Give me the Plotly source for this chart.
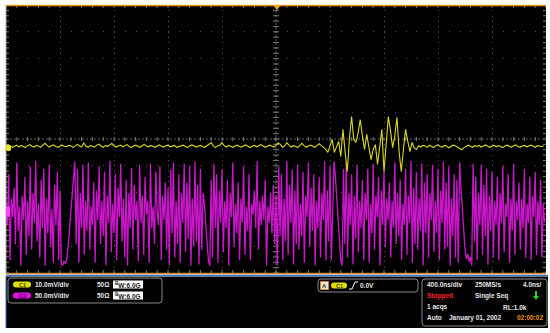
import numpy as np
import plotly.graph_objects as go

W, H = 550, 333

# ---------------- data ----------------
TIME_PER_DIV_NS = 400
C1_DT_NS = 16          # yellow trace sample spacing used for transcription
C3_DT_NS = 10          # magenta trace sample spacing used for transcription
C1_SCALE_MV = 10.0     # mV/div
C3_SCALE_MV = 50.0     # mV/div
C1_OFFSET_DIV = -0.28
C3_OFFSET_DIV = -2.72

c1_mv = [
    0.3, 0.6, 0.2, -0.3, 0.1, 0.5, -0.2, 0.4, 0.0, -0.4, 0.3, 0.7, 0.1, -0.2, 0.4, 0.2, -0.3, 0.5, 1.2, 0.4,
    -0.2, 0.3, 0.6, 0.0, -0.3, 0.2, 0.5, 0.1, -0.1, 0.4, 0.3, -0.4, 0.2, 0.8, 0.3, -0.2, 1.3, 0.2, -0.3, 0.4,
    0.1, -0.2, 0.5, 0.9, 0.2, -0.3, 0.4, 0.0, 0.6, 1.1, 0.3, -0.2, 0.2, 0.5, -0.1, 0.3, 0.7, 0.0, -0.4, 0.2,
    0.5, 0.1, -0.3, 0.3, 0.8, 0.2, -0.1, 0.4, 0.0, -0.3, 0.2, 0.6, 0.1, -0.2, 0.3, 0.5, -0.1, 0.2, 0.4, -0.3,
    0.0, 0.3, 0.5, 0.1, -0.4, 0.2, 0.6, 0.3, -0.2, 0.1, 0.4, 0.0, -0.3, 0.3, 1.0, 1.4, 0.2, -0.4, 0.3, 0.5,
    1.5, 0.3, -0.2, 0.4, 0.1, -0.3, 0.2, 0.5, 0.0, -0.2, 0.3, 0.6, 0.1, -0.4, 0.2, 0.4, -0.1, 0.3, 0.7, 0.2,
    -0.3, 0.1, 0.5, 0.2, -0.2, 0.4, 1.3, 0.8, -0.3, 0.2, 1.4, 0.5, -0.2, 0.3, 0.1, -0.4, 0.6, 1.2, 0.3, -0.3,
    0.2, 0.5, 0.1, -0.3, 0.4, 1.0, 0.3, -0.2,
    -1.0, -2.2, 0.5, 2.6, -2.2, 0.0, 1.9, -3.7, 6.4, -2.0, -9.4, 3.0, 11.2, 2.6, 1.5, 5.0, 10.0, 4.0, -1.1, 4.5,
    0.0, -4.9, -1.0, 0.7, -6.7, 0.0, 6.4, -9.4, 2.0, 11.2, 6.0, -0.4, 4.0, 10.9, -2.0, -9.4, -1.0, 6.4, 2.0, -1.9,
    1.5, -0.5, -1.1, 0.3, -0.2, 0.4,
    0.2, -0.3, 0.5, 0.1, -0.4, 0.3, 0.6, 0.0, -0.2, 0.4, 0.2, -0.5, 0.1, 0.5, 0.3, -0.1, -0.6, -1.2, -0.4, 0.2,
    0.5, 0.1, -0.3, 0.3, 0.0, 0.4, -0.2, 0.2, 0.6, 0.1, -0.3, 0.2, 0.4, -0.1, 0.3, 0.0, -0.4, 0.2, 0.5, 0.1,
    -0.2, 0.3, 0.6, 0.0, -0.3, 0.2, 0.4, -0.1, 0.1, 0.5, 0.2, -0.3, 0.3, 0.1, 0.0, 0.2,
]

c3_mv = [
    15, -25, 70, -90, 25, -10, 45, -60, 92, -35, 10, -100, 30, -15, 65, -80, 20, -45, 85, -70,
    35, -20, 95, -55, 15, -85, 60, -30, 80, -100, 25, -40, 88, -65, 5, -95, 50, -25, 75, -90,
    40, -98, -100, -92, -97, -88, -65, -35, -5, 30, 62, 94, -60, 80, -95, 35, -30, 88, -80, 20,
    -35, 92, -70, 10, -25, 55, -95, 40, -15, 85, -60, 20, -45, 75, -100, 30, -20, 95, -75, 15,
    -40, 70, -90, 45, -10, 90, -55, 25, -85, 60, -100, 35, -30, 82, -70, 50, -15, 20, -92, 88,
    -20, 30, -80, 65, -5, 20, -95, 90, -30, 10, -60, 75, 0, -25, 85, -90, 30, -15, 55, -70,
    45, -100, 78, -40, 92, -85, 20, -60, 70, -95, 35, -20, 90, -75, 55, -50, 85, -100, 25, -65,
    94, -55, 50, -98, 80, -70, 35, 15, -25, -65, -92, -100, 60, -85, 90, -30, 70, -95, 40, -20,
    80, -75, 20, -30, 60, -100, 35, -10, 92, -65, 15, -40, 55, -90, 25, -20, 85, -80, 10, -35,
    70, -90, 15, -5, 40, -30, 95, -70, 20, -25, 30, -15, 60, -100, 10, -20, 35, -40, 50, -60,
    30, -100, 85, -45, 70, -90, 25, -55, 95, -80, 50, -20, 78, -98, 40, -60, 88, -70, 15, -45,
    75, -95, 30, -10, 92, -65, 45, -35, 70, -100, 20, -30, 65, -85, 35, -15, 95, -90, 40, -55,
    85, -90, 25, 94, 65, 25, -15, -55, -92, -100, 80, -60, 92, -85, 35, -25, 70, -98, 30, -50,
    88, -75, 20, -30, 60, -90, 35, -15, 80, -95, 15, -40, 90, -70, 30, -10, 65, -100, 40, -25,
    75, -65, 25, -15, 55, -85, 20, -30, 92, -60, 35, -45, 60, -90, 15, -25, 80, -80, 30, -20,
    95, -95, 45, -60, 75, -70, 25, -35, 90, -100, 55, -40, 70, -85, 35, -15, 88, -75, 20, -40,
    80, -90, 40, -20, 94, -70, 55, -65, 85, -100, 25, -45, 70, -85, 60, -95, 92, 45, 5, -35,
    -70, -88, -78, -93, -84, -100, 90, -55, 65, -90, 35, -25, 88, -80, 50, -45, 80, -98, 30, -35,
    75, -85, 20, -25, 65, -90, 35, -20, 85, -75, 15, -10, 70, -95, 25, -35, 90, -80, 20, -15,
    55, -70, 25, -30, 80, -85, 15, -20, 65, -90, 30, -10, 75, -80, 20, -25, 60, -85, 15, -20,
]

ch_labels = ["C1", "C3"]
ch_scales = ["10.0mV/div", "50.0mV/div"]
ch_imped = ["50\u03a9", "50\u03a9"]
ch_bw = ["6.0G", "6.0G"]
trig_level = "0.0V"
timebase = ["400.0ns/div", "250MS/s", "4.0ns/"]
status = ["Stopped", "Single Seq"]
acq = ["1 acqs", "RL:1.0k"]
footer = ["Auto", "January 01, 2002", "02:00:02"]

# ---------------- helpers ----------------
def X(px):
    return px / W

def Y(py):
    return 1 - py / H

def rrect(x0, y0, x1, y1, r):
    return (f"M {X(x0+r)},{Y(y0)} L {X(x1-r)},{Y(y0)} Q {X(x1)},{Y(y0)} {X(x1)},{Y(y0+r)} "
            f"L {X(x1)},{Y(y1-r)} Q {X(x1)},{Y(y1)} {X(x1-r)},{Y(y1)} "
            f"L {X(x0+r)},{Y(y1)} Q {X(x0)},{Y(y1)} {X(x0)},{Y(y1-r)} "
            f"L {X(x0)},{Y(y0+r)} Q {X(x0)},{Y(y0)} {X(x0+r)},{Y(y0)} Z")

SX0, SX1, SY0, SY1 = 6, 546, 5, 273
T_RANGE = TIME_PER_DIV_NS * 10

t1 = np.arange(len(c1_mv)) * C1_DT_NS
t3 = np.arange(len(c3_mv)) * C3_DT_NS
y1 = np.array(c1_mv) / C1_SCALE_MV + C1_OFFSET_DIV
y3 = np.array(c3_mv) / C3_SCALE_MV + C3_OFFSET_DIV

fig = go.Figure()

# graticule tick marks
pxx = T_RANGE / (SX1 - SX0)
pxy = 10 / (SY1 - SY0)
tx, ty = [], []
for k in range(51):
    t = k * TIME_PER_DIV_NS / 5
    for yb, d in ((-5, 3), (5, -3)):
        tx += [t, t, None]; ty += [yb, yb + d * pxy, None]
    tx += [t, t, None]; ty += [-2 * pxy, 2 * pxy, None]
for k in range(51):
    v = -5 + k * 0.2
    for xb, d in ((0, 3), (T_RANGE, -3)):
        tx += [xb, xb + d * pxx, None]; ty += [v, v, None]
    tx += [T_RANGE / 2 - 3 * pxx, T_RANGE / 2 + 3 * pxx, None]; ty += [v, v, None]
fig.add_trace(go.Scatter(x=tx, y=ty, mode="lines", line=dict(color="#7a7a70", width=1),
                         hoverinfo="skip", showlegend=False))

fig.add_trace(go.Scatter(x=t3, y=y3, mode="lines", line=dict(color="#cc16cc", width=1.3),
                         hoverinfo="skip", showlegend=False))
fig.add_trace(go.Scatter(x=t1, y=y1, mode="lines", line=dict(color="#d8d820", width=1.1),
                         hoverinfo="skip", showlegend=False))

shapes = []
# center crosshair
shapes.append(dict(type="line", xref="x", yref="y", x0=T_RANGE / 2, x1=T_RANGE / 2, y0=-5, y1=5,
                   line=dict(color="#606060", width=1, dash="2px,2px"), layer="below"))
shapes.append(dict(type="line", xref="x", yref="y", x0=0, x1=T_RANGE, y0=0, y1=0,
                   line=dict(color="#606060", width=1, dash="2px,2px"), layer="below"))
# orange top / bottom screen borders, blue separator
shapes.append(dict(type="line", xref="paper", yref="paper", x0=X(SX0), x1=X(SX1), y0=Y(5.5), y1=Y(5.5),
                   line=dict(color="#e8921c", width=1.5)))
shapes.append(dict(type="line", xref="paper", yref="paper", x0=X(SX0), x1=X(SX1), y0=Y(273.5), y1=Y(273.5),
                   line=dict(color="#d0882a", width=1.5)))
shapes.append(dict(type="line", xref="paper", yref="paper", x0=X(SX0), x1=X(548), y0=Y(275.5), y1=Y(275.5),
                   line=dict(color="#3c6fc4", width=1.5)))
# left screen edge
shapes.append(dict(type="line", xref="paper", yref="paper", x0=X(6), x1=X(6), y0=Y(5), y1=Y(274),
                   line=dict(color="#b8b0a0", width=1)))
# trigger position marker
shapes.append(dict(type="path", xref="paper", yref="paper",
                   path=f"M {X(273)},{Y(5)} L {X(281)},{Y(5)} L {X(277)},{Y(10)} Z",
                   fillcolor="#f0a020", line=dict(width=0)))
# channel ground markers
shapes.append(dict(type="path", xref="paper", yref="paper", path=rrect(6, 145, 11, 151, 2),
                   fillcolor="#e8e820", line=dict(width=0)))
shapes.append(dict(type="path", xref="paper", yref="paper", path=rrect(6, 206, 10, 217, 2),
                   fillcolor="#ff40ff", line=dict(width=0)))
# bottom panel
shapes.append(dict(type="rect", xref="paper", yref="paper", x0=X(6), x1=X(548), y0=Y(328), y1=Y(276.5),
                   fillcolor="#000000", line=dict(width=0), layer="below"))
shapes.append(dict(type="line", xref="paper", yref="paper", x0=X(6), x1=X(6), y0=Y(328), y1=Y(276),
                   line=dict(color="#3c6fc4", width=1)))
for (a, b, c, d) in ((8, 278, 162, 303), (318, 279, 418, 292), (422, 279, 547, 326)):
    shapes.append(dict(type="path", xref="paper", yref="paper", path=rrect(a, b, c, d, 3),
                       fillcolor="rgba(0,0,0,0)", line=dict(color="#8a8a8a", width=1)))
# channel pills
pill_cols = ["#e0e000", "#e010e0"]
for i, yc in enumerate((284.5, 295.5)):
    shapes.append(dict(type="path", xref="paper", yref="paper", path=rrect(13, yc - 3, 31, yc + 3, 3),
                       fillcolor=pill_cols[i], line=dict(width=0)))
    shapes.append(dict(type="rect", xref="paper", yref="paper", x0=X(113), x1=X(143), y0=Y(yc + 4), y1=Y(yc - 4),
                       fillcolor="#ffffff", line=dict(width=0)))
shapes.append(dict(type="path", xref="paper", yref="paper", path=rrect(331, 282.5, 347, 288.5, 3),
                   fillcolor="#e0e000", line=dict(width=0)))
shapes.append(dict(type="rect", xref="paper", yref="paper", x0=X(320.5), x1=X(328.5), y0=Y(289.5), y1=Y(281.5),
                   fillcolor="#f0e8dc", line=dict(color="#e08020", width=1)))
# trigger slope symbol
shapes.append(dict(type="path", xref="paper", yref="paper",
                   path=f"M {X(349)},{Y(289)} L {X(352)},{Y(289)} L {X(355)},{Y(282)} L {X(358)},{Y(282)}",
                   line=dict(color="#ffffff", width=1)))
# green arrow
shapes.append(dict(type="path", xref="paper", yref="paper",
                   path=(f"M {X(535)},{Y(291)} L {X(537)},{Y(291)} L {X(537)},{Y(296)} L {X(539)},{Y(296)} "
                         f"L {X(536)},{Y(300)} L {X(533)},{Y(296)} L {X(535)},{Y(296)} Z"),
                   fillcolor="#22d622", line=dict(width=0)))

FONT = "Liberation Sans"
ann = []

def txt(x, y, s, color="#e8e8e8", size=6.5, anchor="left", bold=True):
    ann.append(dict(x=X(x), y=Y(y), xref="paper", yref="paper", showarrow=False,
                    text=(f"<b>{s}</b>" if bold else s), xanchor=anchor, yanchor="middle",
                    font=dict(family=FONT, size=size, color=color), borderpad=0))

for i, yc in enumerate((284.5, 295.5)):
    txt(22, yc, ch_labels[i], color="#404000" if i == 0 else "#500050", size=5.5, anchor="center")
    txt(34, yc, ch_scales[i])
    txt(96, yc, ch_imped[i])
    txt(114, yc, f"<sup>B</sup>W:{ch_bw[i]}", color="#202020", size=6.5)
txt(324.5, 285.5, "A", color="#303030", size=6, anchor="center")
txt(339, 285.5, ch_labels[0], color="#404000", size=5.5, anchor="center")
txt(359, 285.5, trig_level)
txt(426, 284.5, timebase[0]); txt(474, 284.5, timebase[1]); txt(543, 284.5, timebase[2], anchor="right")
txt(426, 296, status[0], color="#ff2020"); txt(474, 296, status[1])
txt(426, 307, acq[0]); txt(502, 307, acq[1])
txt(426, 317.5, footer[0]); txt(448, 317.5, footer[1]); txt(516, 317.5, footer[2], color="#f09020")

fig.update_layout(
    width=W, height=H, margin=dict(l=0, r=0, t=0, b=0),
    paper_bgcolor="#ffffff", plot_bgcolor="#000000",
    xaxis=dict(domain=[X(SX0), X(SX1)], range=[0, T_RANGE], dtick=TIME_PER_DIV_NS, tick0=0,
               showgrid=True, gridcolor="#505050", griddash="1px,4.34px", gridwidth=1,
               zeroline=False, showticklabels=False, ticks="", showline=False, fixedrange=True),
    yaxis=dict(domain=[Y(SY1), Y(SY0)], range=[-5, 5], dtick=1, tick0=0,
               showgrid=True, gridcolor="#505050", griddash="1px,9.8px", gridwidth=1,
               zeroline=False, showticklabels=False, ticks="", showline=False, fixedrange=True),
    shapes=shapes, annotations=ann, showlegend=False, hovermode=False,
)

fig.write_html("out.html", config={"displayModeBar": False, "staticPlot": True},
               post_script="document.body.style.margin='0';document.body.style.overflow='hidden';")
